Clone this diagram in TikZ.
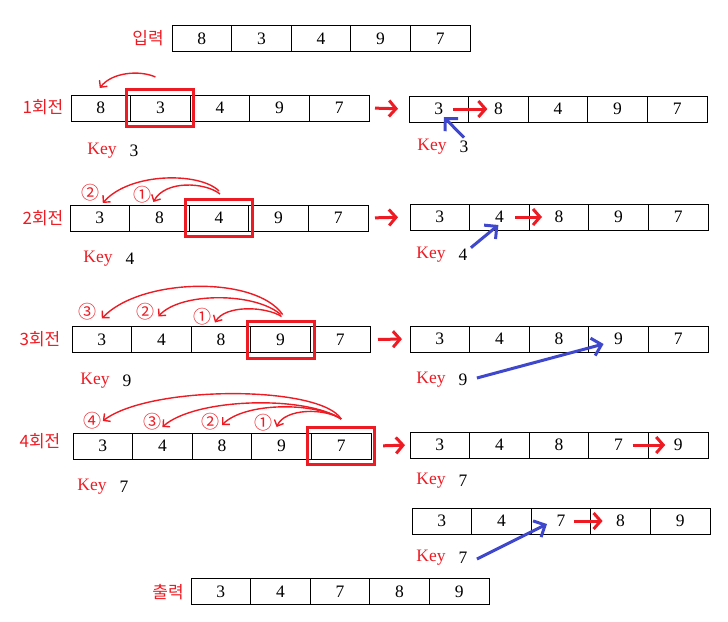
\documentclass[tikz,border=0pt]{standalone}
\usepackage{fontspec}
\setmainfont{Liberation Serif}
\newfontfamily\kr{Noto Sans CJK KR}
\usepackage{tikz}
\usetikzlibrary{arrows.meta, positioning, calc}
\definecolor{pred}{RGB}{237,28,36}
\definecolor{pblue}{RGB}{63,72,204}

% one row of five cells, named #1c1 ... #1c5
\newcommand{\cellrow}[4]{%
  \foreach \v [count=\i] in {#4}
    \node[cell] (#1c\i) at ({#2+59.6*\i-29.8},#3) {\v};%
}
% "Key" and its value
\newcommand{\keypair}[4]{%
  \node[keylabel] (#1) at (#2,#3) {Key};
  \node[keyval] (#1v) at (#2+32,#3) {#4};%
}

\begin{document}
\begin{tikzpicture}[x=1pt,y=-1pt,
    cell/.style={draw,line width=0.9pt,minimum width=59.6pt,minimum height=26pt,inner sep=0pt,outer sep=0pt,font=\fontsize{17.5}{18}\selectfont},
    keybox/.style={draw=pred,line width=3pt,minimum width=67pt,minimum height=37pt,inner sep=0pt},
    rowlabel/.style={text=pred,font=\kr\fontsize{17}{18}\selectfont},
    circnum/.style={text=pred,inner sep=0pt,font=\kr\fontsize{18}{19}\selectfont},
    keylabel/.style={text=pred,font=\fontsize{17.5}{18}\selectfont},
    keyval/.style={font=\fontsize{17.5}{18}\selectfont},
    bigarrow/.style={draw=pred,line width=3pt,-{Straight Barb[length=7pt,width=16pt]}},
    curvearrow/.style={draw=pred,line width=1.4pt,-{Straight Barb[length=5pt,width=10pt]}},
    bluearrow/.style={draw=pblue,line width=3pt,-{Straight Barb[length=9pt,width=18pt]}}]
  \useasboundingbox (0,0) rectangle (728,621);

  % input
  \node[rowlabel] (inlab) at (148,38) {입력};
  \cellrow{in}{172}{38.5}{8,3,4,9,7}

  % pass 1
  \node[rowlabel] (lab1) at (43,107) {1회전};
  \cellrow{r1}{71}{108}{8,3,4,9,7}
  \node[keybox] (h1) at (r1c2) {};
  \keypair{k1}{102}{151}{3}
  \cellrow{s1}{409}{109}{3,8,4,9,7}
  \keypair{q1}{432}{147}{3}
  \path[curvearrow] ($(r1c2.north)+(-5,-18)$) .. controls (140,70) and (112,72) .. ($(r1c1.north)+(-1,-7)$);
  \path[bigarrow,shorten <=6pt,shorten >=11pt] (r1c5.east) -- (s1c1.west);
  \path[bigarrow,draw=pred,shorten <=14pt,shorten >=11pt] (s1c1.center) -- (s1c2.center);
  \path[bluearrow] (q1v.north) -- ($(s1c1.center)+(5,8)$);

  % pass 2
  \node[rowlabel] (lab2) at (43,218) {2회전};
  \cellrow{r2}{70}{218}{3,8,4,9,7}
  \node[keybox] (h2) at (r2c3) {};
  \keypair{k2}{98}{259}{4}
  \node[circnum] (n21) at (142,195) {①};
  \node[circnum] (n22) at (90,193) {②};
  \path[curvearrow] ($(r2c3.north)+(1,-11)$) .. controls (205,182) and (165,180) .. ($(r2c2.north)+(-6,-3)$);
  \path[curvearrow] ($(r2c3.north)+(0,-14)$) .. controls (200,172) and (130,172) .. ($(r2c1.north)+(3,-2)$);
  \cellrow{s2}{410}{217}{3,4,8,9,7}
  \keypair{q2}{431}{255}{4}
  \path[bigarrow,shorten <=7pt,shorten >=12pt] (r2c5.east) -- (s2c1.west);
  \path[bigarrow,shorten <=16pt,shorten >=17pt] (s2c2.center) -- (s2c3.center);
  \path[bluearrow] ($(q2v.north east)+(0,2)$) -- ($(s2c2.center)+(-1,8)$);

  % pass 3
  \node[rowlabel] (lab3) at (40,339) {3회전};
  \cellrow{r3}{72}{339.5}{3,4,8,9,7}
  \node[keybox] (h3) at (r3c4) {};
  \keypair{k3}{95}{381}{9}
  \node[circnum] (n31) at (202,317) {①};
  \node[circnum] (n32) at (145,312) {②};
  \node[circnum] (n33) at (87,312) {③};
  \path[curvearrow] ($(r3c4.north)+(1,-10)$) .. controls (265,306) and (225,305) .. ($(r3c3.north)+(-6,-4)$);
  \path[curvearrow] ($(r3c4.north)+(0,-12)$) .. controls (255,292) and (180,292) .. ($(r3c2.north)+(-3,-10)$);
  \path[curvearrow] ($(r3c4.north)+(2,-12)$) .. controls (255,275) and (140,278) .. ($(r3c1.north)+(0,-8)$);
  \cellrow{s3}{410}{339}{3,4,8,9,7}
  \keypair{q3}{431}{380}{9}
  \path[bigarrow,shorten <=8pt,shorten >=8pt] (r3c5.east) -- (s3c1.west);
  \path[bluearrow] ($(q3v.east)+(6,-2)$) -- ($(s3c4.center)+(-15,5)$);

  % pass 4
  \node[rowlabel] (lab4) at (40,441) {4회전};
  \cellrow{r4}{73}{446}{3,4,8,9,7}
  \node[keybox] (h4) at (r4c5) {};
  \keypair{k4}{92}{487}{7}
  \node[circnum] (n41) at (263,423) {①};
  \node[circnum] (n42) at (210,422) {②};
  \node[circnum] (n43) at (152,422) {③};
  \node[circnum] (n44) at (92,421) {④};
  \path[curvearrow] ($(r4c5.north)+(0,-14)$) .. controls (325,408) and (285,408) .. ($(r4c4.north)+(-5,-6)$);
  \path[curvearrow] ($(r4c5.north)+(0,-14)$) .. controls (315,402) and (245,402) .. ($(r4c3.north)+(0,-8)$);
  \path[curvearrow] ($(r4c5.north)+(0,-14)$) .. controls (305,395) and (195,398) .. ($(r4c2.north)+(0,-6)$);
  \path[curvearrow] ($(r4c5.north)+(0,-14)$) .. controls (320,385) and (150,385) .. ($(r4c1.north)+(0,-12)$);
  \cellrow{s4}{410}{445}{3,4,8,7,9}
  \keypair{q4}{431}{481}{7}
  \path[bigarrow,shorten <=7pt,shorten >=5pt] (h4.east) -- (s4c1.west);
  \path[bigarrow,shorten <=14pt,shorten >=13pt] (s4c4.center) -- (s4c5.center);

  % insert
  \cellrow{s5}{412}{521}{3,4,7,8,9}
  \keypair{q5}{431}{558}{7}
  \path[bigarrow,shorten <=13pt,shorten >=18pt] (s5c3.center) -- (s5c4.center);
  \path[bluearrow] ($(q5v.east)+(6,1)$) -- ($(s5c3.center)+(-14,3)$);

  % output
  \node[rowlabel] (outlab) at (168,592) {출력};
  \cellrow{out}{191}{591.5}{3,4,7,8,9}
\end{tikzpicture}
\end{document}
